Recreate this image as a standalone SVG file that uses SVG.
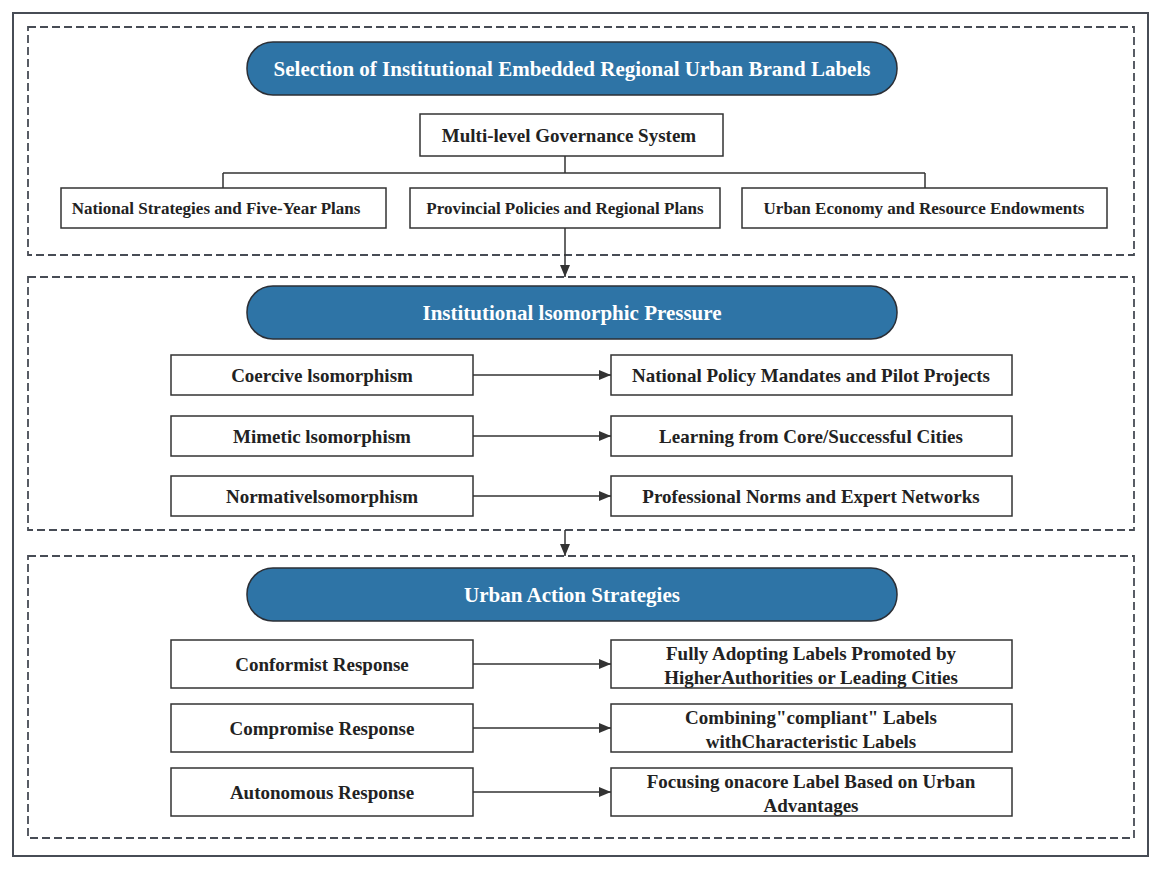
<svg xmlns="http://www.w3.org/2000/svg" width="1164" height="871" viewBox="0 0 1164 871">
<defs>
<marker id="arr" viewBox="0 0 12 10" refX="12" refY="5" markerWidth="12" markerHeight="10" markerUnits="userSpaceOnUse" orient="auto">
<path d="M0,0 L12,5 L0,10 z" fill="#333"/>
</marker>
<style>
.frame{fill:#fff;stroke:#474c55;stroke-width:2}
.sec{fill:none;stroke:#474c55;stroke-width:1.8;stroke-dasharray:8 4}
.pill{fill:#2e74a6;stroke:#2b2f36;stroke-width:1.5}
.box{fill:#fff;stroke:#333;stroke-width:1.5}
.pt{font-family:"Liberation Serif","Times New Roman",serif;font-weight:bold;font-size:21px;fill:#fff;text-anchor:middle}
.bt{font-family:"Liberation Serif","Times New Roman",serif;font-weight:bold;font-size:19px;fill:#222;text-anchor:middle}
.st{font-family:"Liberation Serif","Times New Roman",serif;font-weight:bold;font-size:17px;fill:#222;text-anchor:middle}
.ln{fill:none;stroke:#333;stroke-width:1.5}
</style>
</defs>
<rect class="frame" x="13" y="13" width="1135" height="843"/>
<rect class="sec" x="28" y="27" width="1106" height="228"/>
<rect class="sec" x="28" y="277" width="1106" height="253"/>
<rect class="sec" x="28" y="556" width="1106" height="282"/>

<g id="connectors">
<path class="ln" d="M565,156 V173 M223,173 H925 M223,173 V188 M925,173 V188"/>
<path class="ln" d="M565,228 V277" marker-end="url(#arr)"/>
<path class="ln" d="M565,530 V556" marker-end="url(#arr)"/>
<path class="ln" d="M473,375 H611" marker-end="url(#arr)"/>
<path class="ln" d="M473,436 H611" marker-end="url(#arr)"/>
<path class="ln" d="M473,496 H611" marker-end="url(#arr)"/>
<path class="ln" d="M473,664 H611" marker-end="url(#arr)"/>
<path class="ln" d="M473,728 H611" marker-end="url(#arr)"/>
<path class="ln" d="M473,792 H611" marker-end="url(#arr)"/>
</g>

<g id="title1"><rect class="pill" x="247" y="42" width="650" height="53" rx="26"/><text class="pt" x="572" y="76">Selection of Institutional Embedded Regional Urban Brand Labels</text></g>
<g id="governance"><rect class="box" x="420" y="114" width="303" height="42"/><text class="bt" x="569" y="142">Multi-level Governance System</text></g>
<g id="national"><rect class="box" x="61" y="188" width="325" height="40"/><text class="st" x="216" y="214">National Strategies and Five-Year Plans</text></g>
<g id="provincial"><rect class="box" x="410" y="188" width="310" height="40"/><text class="st" x="565" y="214">Provincial Policies and Regional Plans</text></g>
<g id="urban"><rect class="box" x="742" y="188" width="365" height="40"/><text class="st" x="924" y="214">Urban Economy and Resource Endowments</text></g>

<g id="title2"><rect class="pill" x="247" y="286" width="650" height="53" rx="26"/><text class="pt" x="572" y="320">Institutional lsomorphic Pressure</text></g>
<g id="coercive"><rect class="box" x="171" y="355" width="302" height="40"/><text class="bt" x="322" y="382">Coercive lsomorphism</text></g>
<g id="mandates"><rect class="box" x="611" y="355" width="401" height="40"/><text class="bt" x="811" y="382">National Policy Mandates and Pilot Projects</text></g>
<g id="mimetic"><rect class="box" x="171" y="416" width="302" height="40"/><text class="bt" x="322" y="443">Mimetic lsomorphism</text></g>
<g id="learning"><rect class="box" x="611" y="416" width="401" height="40"/><text class="bt" x="811" y="443">Learning from Core/Successful Cities</text></g>
<g id="normative"><rect class="box" x="171" y="476" width="302" height="40"/><text class="bt" x="322" y="503">Normativelsomorphism</text></g>
<g id="norms"><rect class="box" x="611" y="476" width="401" height="40"/><text class="bt" x="811" y="503">Professional Norms and Expert Networks</text></g>

<g id="title3"><rect class="pill" x="247" y="568" width="650" height="53" rx="26"/><text class="pt" x="572" y="602">Urban Action Strategies</text></g>
<g id="conformist"><rect class="box" x="171" y="640" width="302" height="48"/><text class="bt" x="322" y="671">Conformist Response</text></g>
<g id="adopting"><rect class="box" x="611" y="640" width="401" height="48"/><text class="bt" x="811" y="660">Fully Adopting Labels Promoted by</text><text class="bt" x="811" y="684">HigherAuthorities or Leading Cities</text></g>
<g id="compromise"><rect class="box" x="171" y="704" width="302" height="48"/><text class="bt" x="322" y="735">Compromise Response</text></g>
<g id="combining"><rect class="box" x="611" y="704" width="401" height="48"/><text class="bt" x="811" y="724">Combining"compliant" Labels</text><text class="bt" x="811" y="748">withCharacteristic Labels</text></g>
<g id="autonomous"><rect class="box" x="171" y="768" width="302" height="48"/><text class="bt" x="322" y="799">Autonomous Response</text></g>
<g id="focusing"><rect class="box" x="611" y="768" width="401" height="48"/><text class="bt" x="811" y="788">Focusing onacore Label Based on Urban</text><text class="bt" x="811" y="812">Advantages</text></g>
</svg>
